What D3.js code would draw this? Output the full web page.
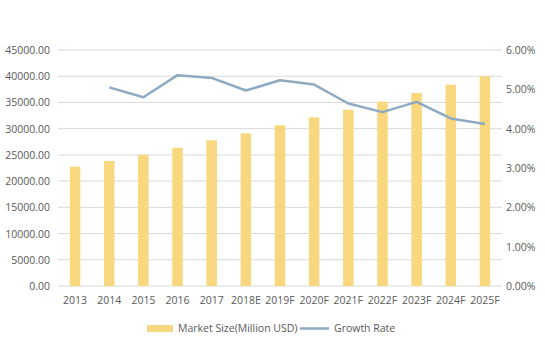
<!DOCTYPE html>
<html>
<head>
<meta charset="utf-8">
<script src="https://cdn.jsdelivr.net/npm/d3@7"></script>
<style>
body { margin: 0; background: #fff; }
text { font-family: "Open Sans", sans-serif; font-size: 10.5px; fill: #595959; }
</style>
</head>
<body>
<svg id="chart"></svg>
<script>
var years = ['2013','2014','2015','2016','2017','2018E','2019F','2020F','2021F','2022F','2023F','2024F','2025F'];
var marketSize = [22750, 23850, 24980, 26370, 27780, 29110, 30640, 32160, 33620, 35150, 36800, 38390, 39980];
var growthRate = [null, 5.05, 4.80, 5.36, 5.29, 4.97, 5.23, 5.12, 4.64, 4.42, 4.68, 4.26, 4.12];
var leftTicks = [0, 5000, 10000, 15000, 20000, 25000, 30000, 35000, 40000, 45000];
var rightTicks = [0, 1, 2, 3, 4, 5, 6];

var W = 545, H = 345;
var svg = d3.select('#chart').attr('width', W).attr('height', H);

var x = d3.scaleBand().domain(years).range([58, 502]);
var yl = d3.scaleLinear().domain([0, 45000]).range([286, 50]);
var yr = d3.scaleLinear().domain([0, 6]).range([286, 50]);

// gridlines
svg.append('g').selectAll('line').data(leftTicks).enter().append('line')
    .attr('x1', 58).attr('x2', 502)
    .attr('y1', function(d){return yl(d);}).attr('y2', function(d){return yl(d);})
    .style('stroke', '#d9d9d9').style('stroke-width', 1);

// bars
var bw = 10.5;
svg.append('g').selectAll('rect').data(marketSize).enter().append('rect')
    .attr('x', function(d,i){return x(years[i]) + x.bandwidth()/2 - bw/2;})
    .attr('y', function(d){return yl(d);})
    .attr('width', bw)
    .attr('height', function(d){return yl(0) - yl(d);})
    .style('fill', '#f9d77e');

// growth line
var line = d3.line()
    .defined(function(d){return d != null;})
    .x(function(d,i){return x(years[i]) + x.bandwidth()/2;})
    .y(function(d){return yr(d);});
svg.append('path').datum(growthRate).attr('d', line)
    .style('fill', 'none').style('stroke', '#8eaac3').style('stroke-width', 2.5)
    .style('stroke-linejoin', 'round');

// left axis labels
svg.append('g').selectAll('text').data(leftTicks).enter().append('text')
    .attr('x', 50).attr('y', function(d){return yl(d) + 4;})
    .attr('text-anchor', 'end')
    .text(function(d){return d.toFixed(2);});

// right axis labels
svg.append('g').selectAll('text').data(rightTicks).enter().append('text')
    .attr('x', 506).attr('y', function(d){return yr(d) + 4;})
    .text(function(d){return d.toFixed(2) + '%';});

// x labels
svg.append('g').selectAll('text').data(years).enter().append('text')
    .attr('x', function(d){return x(d) + x.bandwidth()/2;})
    .attr('y', 304)
    .attr('text-anchor', 'middle')
    .text(function(d){return d;});

// legend
var lg = svg.append('g');
lg.append('rect').attr('x', 147).attr('y', 325).attr('width', 26).attr('height', 7).style('fill', '#f9d77e');
lg.append('text').attr('x', 178).attr('y', 332).text('Market Size(Million USD)');
lg.append('line').attr('x1', 300).attr('x2', 329).attr('y1', 328.5).attr('y2', 328.5)
    .style('stroke', '#8eaac3').style('stroke-width', 2.5);
lg.append('text').attr('x', 334).attr('y', 332).text('Growth Rate');
</script>
</body>
</html>
